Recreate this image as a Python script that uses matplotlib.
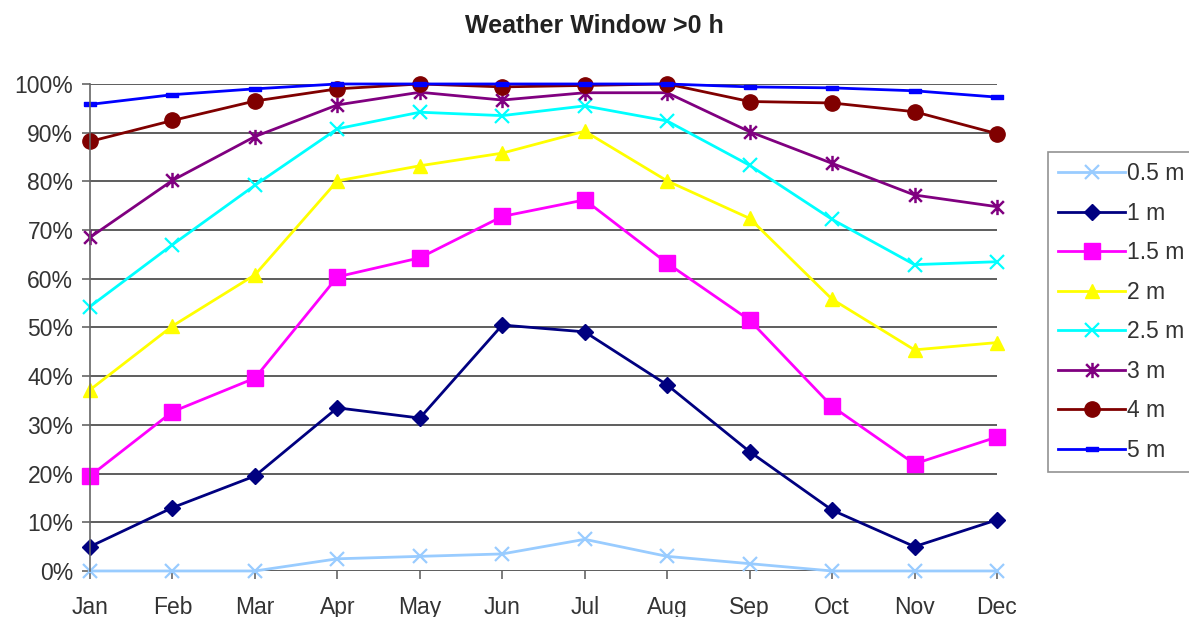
import matplotlib.pyplot as plt
from matplotlib.path import Path
from matplotlib.ticker import PercentFormatter

plt.rcParams['font.family'] = ['Liberation Sans', 'DejaVu Sans']

months = ['Jan', 'Feb', 'Mar', 'Apr', 'May', 'Jun',
          'Jul', 'Aug', 'Sep', 'Oct', 'Nov', 'Dec']

# share of time (%) with a weather window, per wave height limit
hs_05 = [0, 0, 0, 2.5, 3, 3.5, 6.5, 3, 1.5, 0, 0, 0]
hs_10 = [5, 13, 19.5, 33.5, 31.4, 50.5, 49.1, 38.2, 24.5, 12.5, 5, 10.5]
hs_15 = [19.5, 32.7, 39.6, 60.4, 64.3, 72.8, 76.2, 63.2, 51.5, 33.8, 22, 27.5]
hs_20 = [37.2, 50.3, 60.8, 80.1, 83.2, 85.8, 90.3, 80.1, 72.4, 55.8, 45.4, 46.9]
hs_25 = [54.3, 67, 79.2, 90.8, 94.2, 93.5, 95.5, 92.4, 83.3, 72.2, 62.9, 63.5]
hs_30 = [68.5, 80.2, 89.2, 95.7, 98.3, 96.7, 98.2, 98.2, 90.2, 83.7, 77.2, 74.8]
hs_40 = [88.2, 92.5, 96.5, 99, 100, 99.4, 99.7, 100, 96.4, 96.1, 94.3, 89.8]
hs_50 = [95.8, 97.8, 99, 100, 100, 100, 100, 100, 99.4, 99.2, 98.6, 97.3]

# Excel-like star (an x with a vertical bar) and dash markers
star = Path([(-1, -1), (1, 1), (-1, 1), (1, -1), (0, -1.2), (0, 1.2)],
            [Path.MOVETO, Path.LINETO, Path.MOVETO, Path.LINETO,
             Path.MOVETO, Path.LINETO])
dash = [(-1, -0.35), (1, -0.35), (1, 0.35), (-1, 0.35), (-1, -0.35)]

series = [
    ('0.5 m', hs_05, '#99CCFF', 'x', 10, 1.6),
    ('1 m', hs_10, '#000080', 'D', 8, 1),
    ('1.5 m', hs_15, '#FF00FF', 's', 11, 1),
    ('2 m', hs_20, '#FFFF00', '^', 10, 1),
    ('2.5 m', hs_25, '#00FFFF', 'x', 10, 1.6),
    ('3 m', hs_30, '#800080', star, 11, 1.8),
    ('4 m', hs_40, '#800000', 'o', 11, 1),
    ('5 m', hs_50, '#0000FF', dash, 8, 1),
]

fig = plt.figure(figsize=(11.89, 6.17), dpi=100)
ax = fig.add_axes([0.0757, 0.0746, 0.7628, 0.7893])

x = list(range(len(months)))
for label, vals, color, marker, ms, mew in series:
    ax.plot(x, [v / 100 for v in vals], color=color, lw=2, marker=marker,
            ms=ms, mew=mew, mec=color, mfc=color, label=label, clip_on=False)

ax.set_xlim(0, 11)
ax.set_ylim(0, 1)
ax.set_yticks([i / 10 for i in range(11)])
ax.yaxis.set_major_formatter(PercentFormatter(1.0, decimals=0))
ax.set_xticks(x)
ax.set_xticklabels(months)

ax.grid(axis='y', color='#505050', lw=1.3)
ax.set_axisbelow(True)
for side in ['top', 'right', 'bottom']:
    ax.spines[side].set_visible(False)
ax.spines['left'].set_color('#666666')
ax.spines['left'].set_linewidth(1.2)
ax.tick_params(axis='both', colors='#666666', labelcolor='#333333',
               labelsize=16.5, length=6, width=1.2)
ax.tick_params(axis='x', pad=12)
ax.tick_params(axis='y', pad=6)

fig.text(0.5, 0.958, 'Weather Window >0 h', ha='center', va='center',
         fontsize=18, fontweight='bold', color='#222222')

leg = fig.legend(loc='upper left', bbox_to_anchor=(1048 / 1189, 1 - 152 / 617),
                 fontsize=16.5, frameon=True, fancybox=False, handlelength=2.9,
                 handletextpad=0.1, labelspacing=0.72, borderpad=0.45,
                 borderaxespad=0, labelcolor='#333333')
leg.get_frame().set_edgecolor('#777777')
leg.get_frame().set_linewidth(1.2)

fig.savefig('out.png', dpi=100)
